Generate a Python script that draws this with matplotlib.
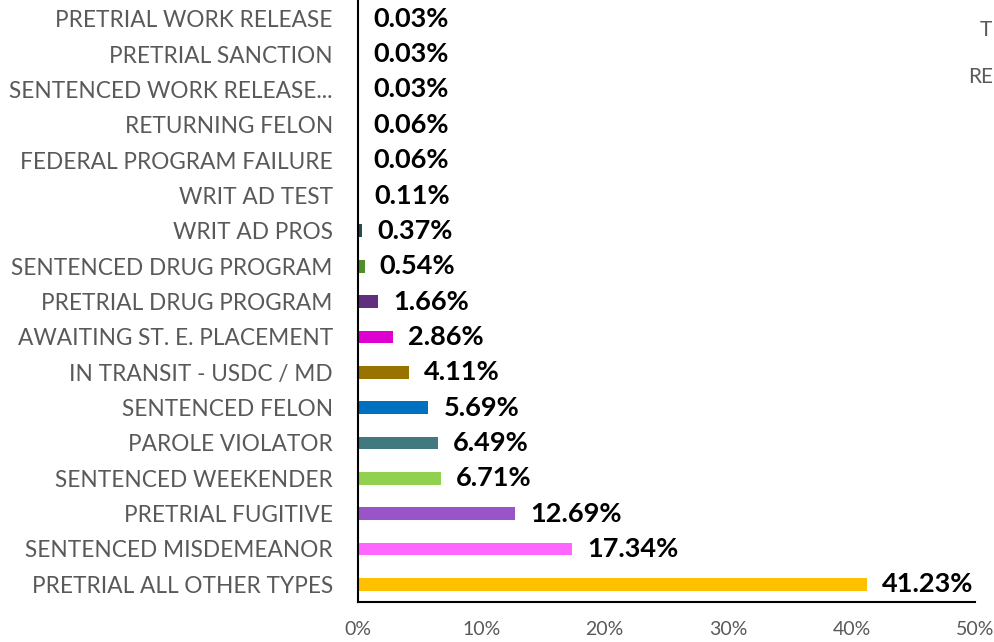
import matplotlib
matplotlib.use("Agg")
import matplotlib.pyplot as plt
from matplotlib.ticker import PercentFormatter

# bottom to top, as drawn
categories = [
    "PRETRIAL ALL OTHER TYPES",
    "SENTENCED MISDEMEANOR",
    "PRETRIAL FUGITIVE",
    "SENTENCED WEEKENDER",
    "PAROLE VIOLATOR",
    "SENTENCED FELON",
    "IN TRANSIT - USDC / MD",
    "AWAITING ST. E. PLACEMENT",
    "PRETRIAL DRUG PROGRAM",
    "SENTENCED DRUG PROGRAM",
    "WRIT AD PROS",
    "WRIT AD TEST",
    "FEDERAL PROGRAM FAILURE",
    "RETURNING FELON",
    "SENTENCED WORK RELEASE...",
    "PRETRIAL SANCTION",
    "PRETRIAL WORK RELEASE",
]
shares = [41.23, 17.34, 12.69, 6.71, 6.49, 5.69, 4.11, 2.86, 1.66, 0.54,
          0.37, 0.11, 0.06, 0.06, 0.03, 0.03, 0.03]
colors = ["#FFC000", "#FF66FF", "#9955C8", "#92D050", "#41797E", "#0070C0",
          "#997300", "#DD00D0", "#60307F", "#4E8F2A", "#264E4F", "#7F6000",
          "#C00000", "#2E75B6", "#A5A5A5", "#ED7D31", "#4472C4"]
xticks = [0, 10, 20, 30, 40, 50]

plt.rcParams['font.family'] = ['Lato', 'DejaVu Sans']

fig = plt.figure(figsize=(9.94, 6.42), dpi=100)
ax = fig.add_axes([0.360, 0.0623, 0.621, 0.936])

ypos = list(range(len(categories)))
ax.barh(ypos, shares, height=0.36, color=colors)

for y, v in zip(ypos, shares):
    ax.annotate(f"{v:.2f}%", xy=(v, y), xytext=(11, 0), textcoords="offset points",
                va="center", ha="left", fontsize=19.5, fontweight="bold", color="black")

ax.set_ylim(-0.5, len(categories) - 0.5)
ax.set_xlim(0, 50)
ax.set_xticks(xticks)
ax.xaxis.set_major_formatter(PercentFormatter(decimals=0))
ax.set_yticks(ypos)
ax.set_yticklabels(categories)

ax.tick_params(axis="y", length=0, pad=18, labelsize=16.3, labelcolor="#595959")
ax.tick_params(axis="x", length=0, pad=14, labelsize=14, labelcolor="#595959")

for side in ["top", "right"]:
    ax.spines[side].set_visible(False)
ax.spines["left"].set_linewidth(1.5)
ax.spines["bottom"].set_linewidth(1.5)

# cut-off legend text at the right edge
fig.text(0.986, 0.953, "T", fontsize=15, color="#595959", ha="left", va="center")
fig.text(0.974, 0.880, "RE", fontsize=15, color="#595959", ha="left", va="center")

fig.savefig("out.png", dpi=100)
